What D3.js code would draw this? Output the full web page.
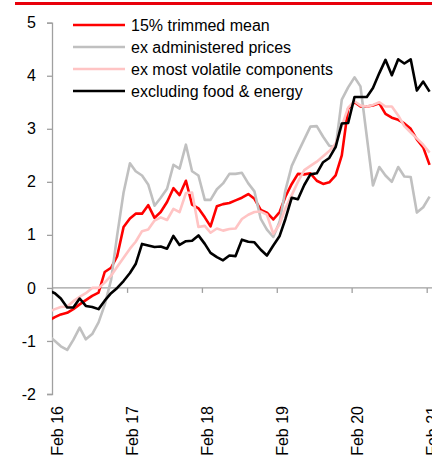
<!DOCTYPE html>
<html>
<head>
<meta charset="utf-8">
<script src="https://cdn.jsdelivr.net/npm/d3@7"></script>
<style>
  body { margin: 0; background: #fff; }
  text { font-family: "Liberation Sans", Arial, sans-serif; }
</style>
</head>
<body>
<div id="chart"></div>
<script>
// monthly observations (plotted mid-month)
var months = [
  "Jan 16","Feb 16","Mar 16","Apr 16","May 16","Jun 16","Jul 16","Aug 16","Sep 16","Oct 16","Nov 16","Dec 16",
  "Jan 17","Feb 17","Mar 17","Apr 17","May 17","Jun 17","Jul 17","Aug 17","Sep 17","Oct 17","Nov 17","Dec 17",
  "Jan 18","Feb 18","Mar 18","Apr 18","May 18","Jun 18","Jul 18","Aug 18","Sep 18","Oct 18","Nov 18","Dec 18",
  "Jan 19","Feb 19","Mar 19","Apr 19","May 19","Jun 19","Jul 19","Aug 19","Sep 19","Oct 19","Nov 19","Dec 19",
  "Jan 20","Feb 20","Mar 20","Apr 20","May 20","Jun 20","Jul 20","Aug 20","Sep 20","Oct 20","Nov 20","Dec 20",
  "Jan 21","Feb 21"
];

var trimmedMean = [
  -0.62,-0.55,-0.50,-0.47,-0.40,-0.31,-0.23,-0.15,-0.09, 0.30, 0.38, 0.60,
   1.15, 1.31, 1.40, 1.40, 1.56, 1.32, 1.43, 1.62, 1.88, 1.75, 2.02, 1.57,
   1.50, 1.33, 1.16, 1.54, 1.58, 1.60, 1.65, 1.70, 1.77, 1.68, 1.47, 1.42,
   1.29, 1.43, 1.72, 1.96, 2.15, 2.14, 2.16, 2.02, 1.96, 1.99, 2.12, 2.50,
   3.38, 3.50, 3.42, 3.42, 3.44, 3.48, 3.28, 3.21, 3.17, 3.10, 3.00, 2.80,
   2.65, 2.32
];

var exAdministered = [
  -0.90,-1.00,-1.10,-1.17,-0.98,-0.75,-0.97,-0.87,-0.65,-0.32, 0.15, 1.00,
   1.80, 2.35, 2.20, 2.12, 1.95, 1.55, 1.70, 1.87, 2.32, 2.25, 2.70, 2.20,
   2.12, 1.66, 1.66, 1.86, 1.97, 2.15, 2.15, 2.17, 1.97, 1.82, 1.30, 1.10,
   0.96, 1.25, 1.84, 2.30, 2.55, 2.80, 3.04, 3.05, 2.85, 2.68, 2.65, 3.55,
   3.78, 3.97, 3.80, 2.85, 1.93, 2.28, 2.12, 2.00, 2.28, 2.10, 2.09, 1.42,
   1.52, 1.72
];

var exVolatile = [
  -0.45,-0.40,-0.36,-0.35,-0.25,-0.17,-0.10, 0.00, 0.00, 0.10, 0.23, 0.40,
   0.57, 0.74, 0.87, 1.07, 1.10, 1.27, 1.33, 1.28, 1.49, 1.43, 1.79, 1.80,
   1.15, 1.17, 1.04, 1.12, 1.08, 1.11, 1.12, 1.30, 1.38, 1.43, 1.44, 1.38,
   1.02, 1.20, 1.50, 1.75, 2.00, 2.22, 2.30, 2.38, 2.48, 2.58, 2.72, 3.05,
   3.40, 3.52, 3.44, 3.42, 3.45, 3.50, 3.42, 3.42, 3.25, 3.05, 2.93, 2.82,
   2.70, 2.55
];

var exFoodEnergy = [
  -0.05,-0.10,-0.20,-0.37,-0.37,-0.20,-0.34,-0.36,-0.40,-0.24,-0.10, 0.00,
   0.13, 0.28, 0.45, 0.83, 0.80, 0.77, 0.78, 0.74, 0.98, 0.81, 0.88, 0.89,
   0.99, 0.83, 0.66, 0.58, 0.52, 0.61, 0.60, 0.91, 0.87, 0.86, 0.72, 0.61,
   0.80, 0.98, 1.30, 1.70, 1.67, 1.94, 2.14, 2.16, 2.37, 2.45, 2.66, 3.10,
   3.11, 3.60, 3.60, 3.60, 3.77, 4.05, 4.30, 4.01, 4.31, 4.23, 4.31, 3.72,
   3.89, 3.70
];

var seriesNames = ["15% trimmed mean", "ex administered prices", "ex most volatile components", "excluding food & energy"];
var seriesColors = ["#ff0000", "#c0c0c0", "#ffc4c4", "#000000"];
var xTicks = ["Feb 16", "Feb 17", "Feb 18", "Feb 19", "Feb 20", "Feb 21"];
var yTicks = [-2, -1, 0, 1, 2, 3, 4, 5];

var width = 432, height = 463;
var parseMonth = d3.timeParse("%b %y");

var svg = d3.select("#chart").append("svg")
    .attr("width", width)
    .attr("height", height);

// red band at the top
svg.append("rect")
    .attr("x", 15).attr("y", 2)
    .attr("width", width - 15).attr("height", 3)
    .attr("fill", "#e8000b");

var x = d3.scaleTime()
    .domain([parseMonth(xTicks[0]), parseMonth(xTicks[xTicks.length - 1])])
    .range([52, 426.7]);

var y = d3.scaleLinear()
    .domain([-2, 5])
    .range([394, 22.7]);

var axisColor = "#a0a0a0";

// y axis (plain hyphen for negatives, like the original)
var yAxis = svg.append("g")
    .attr("transform", "translate(52,0)")
    .call(d3.axisLeft(y).tickValues(yTicks).tickSize(5).tickPadding(11).tickFormat(function(d) { return String(d); }));
yAxis.select(".domain").attr("stroke", axisColor).attr("stroke-width", 1.3);
yAxis.selectAll(".tick line").attr("stroke", axisColor).attr("stroke-width", 1.3);
yAxis.selectAll(".tick text")
    .attr("fill", "#000")
    .style("font-size", "16px")
    .style("font-family", "'Liberation Sans', Arial, sans-serif");

// x axis on the zero line
var xAxis = svg.append("g")
    .attr("transform", "translate(0," + y(0) + ")")
    .call(d3.axisBottom(x).tickValues(xTicks.map(parseMonth)).tickSize(5).tickFormat(""));
xAxis.select(".domain").attr("d", "M52,0H" + width).attr("stroke", axisColor).attr("stroke-width", 1.3);
xAxis.selectAll(".tick line").attr("stroke", axisColor).attr("stroke-width", 1.3);

// rotated date labels at the bottom
svg.selectAll(".xlabel")
    .data(xTicks)
    .enter().append("text")
    .attr("class", "xlabel")
    .attr("transform", function(d) { return "translate(" + (x(parseMonth(d)) + 11) + ",406) rotate(-90)"; })
    .attr("text-anchor", "end")
    .style("font-size", "16px")
    .attr("fill", "#000")
    .text(function(d) { return d; });

// clip lines to the plot area
svg.append("clipPath").attr("id", "plot-clip")
    .append("rect")
    .attr("x", 52).attr("y", 0)
    .attr("width", width - 52).attr("height", height);

var dates = months.map(function(m) { return d3.timeDay.offset(parseMonth(m), 14); });
var allSeries = [trimmedMean, exAdministered, exVolatile, exFoodEnergy];

var line = d3.line()
    .x(function(d, i) { return x(dates[i]); })
    .y(function(d) { return y(d); });

var lines = svg.append("g").attr("clip-path", "url(#plot-clip)");
for (var s = 0; s < allSeries.length; s++) {
    lines.append("path")
        .attr("d", line(allSeries[s]))
        .attr("fill", "none")
        .attr("stroke", seriesColors[s])
        .attr("stroke-width", 2.6)
        .attr("stroke-linejoin", "round");
}

// legend
var legend = svg.append("g");
var legendY = d3.scaleLinear().domain([0, 3]).range([25, 91]);
for (var j = 0; j < seriesNames.length; j++) {
    legend.append("line")
        .attr("x1", 73).attr("x2", 125)
        .attr("y1", legendY(j)).attr("y2", legendY(j))
        .attr("stroke", seriesColors[j])
        .attr("stroke-width", 2.6);
    legend.append("text")
        .attr("x", 131)
        .attr("y", legendY(j))
        .attr("dy", "0.36em")
        .style("font-size", "16px")
        .attr("fill", "#000")
        .text(seriesNames[j]);
}
</script>
</body>
</html>
